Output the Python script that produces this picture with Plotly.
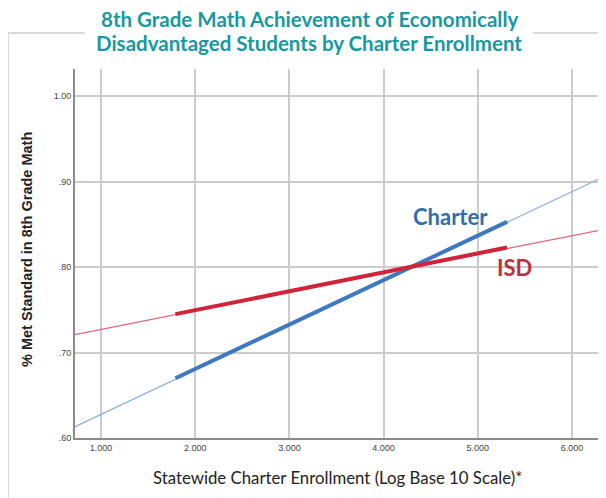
import plotly.graph_objects as go

# fitted lines (x in log10 enrollment)
x_full = [0.72, 6.28]
charter_full = [0.613, 0.903]
isd_full = [0.721, 0.843]

x_obs = [1.79, 5.31]
charter_obs = [0.670, 0.853]
isd_obs = [0.745, 0.823]

x_ticks = [1, 2, 3, 4, 5, 6]
x_ticktext = ["1.000", "2.000", "3.000", "4.000", "5.000", "6.000"]
y_ticks = [0.6, 0.7, 0.8, 0.9, 1.0]
y_ticktext = [".60", ".70", ".80", ".90", "1.00"]

title_lines = ["8th Grade Math Achievement of Economically",
               "Disadvantaged Students by Charter Enrollment"]

blue = "#3e78c0"
red = "#d1233a"

fig = go.Figure()
fig.add_trace(go.Scatter(x=x_full, y=charter_full, mode="lines",
                         line=dict(color="#8aaede", width=1.2), hoverinfo="skip"))
fig.add_trace(go.Scatter(x=x_full, y=isd_full, mode="lines",
                         line=dict(color="#e0647a", width=1.2), hoverinfo="skip"))
fig.add_trace(go.Scatter(x=x_obs, y=charter_obs, mode="lines",
                         line=dict(color=blue, width=4), hoverinfo="skip"))
fig.add_trace(go.Scatter(x=x_obs, y=isd_obs, mode="lines",
                         line=dict(color=red, width=4), hoverinfo="skip"))

# line labels
fig.add_annotation(x=4.71, y=0.859, text="<b>Charter</b>", showarrow=False,
                   font=dict(family="Lato", size=22, color="#2f6fae"))
fig.add_annotation(x=5.39, y=0.80, text="<b>ISD</b>", showarrow=False,
                   font=dict(family="Lato", size=22, color="#b8333e"))


# helpers: window pixel -> paper coords (plot area spans 75..598 x 69..438 in the window)
def px(x):
    return (x - 75) / 523


def py(y):
    return (438 - y) / 369


# title lines and axis titles
for line, yy in zip(title_lines, [19, 43]):
    fig.add_annotation(xref="paper", yref="paper", x=px(309), y=py(yy),
                       xanchor="center", yanchor="middle", borderpad=0,
                       text="<b>" + line + "</b>", showarrow=False,
                       font=dict(family="Lato", size=20.5, color="#16999f"))
fig.add_annotation(xref="paper", yref="paper", x=px(27), y=py(250),
                   xanchor="center", yanchor="middle",
                   text="<b>% Met Standard in 8th Grade Math</b>", textangle=-90,
                   showarrow=False,
                   font=dict(family="Liberation Sans", size=14.5, color="#222222"))
fig.add_annotation(xref="paper", yref="paper", x=px(337), y=py(477),
                   xanchor="center", yanchor="middle",
                   text="Statewide Charter Enrollment (Log Base 10 Scale)*",
                   showarrow=False,
                   font=dict(family="Lato", size=16.8, color="#222222"))

# outer frame with a gap behind the title
frame = dict(type="line", xref="paper", yref="paper",
             line=dict(color="#dadada", width=2))
fig.add_shape(**frame, x0=px(8), x1=px(8), y0=py(33), y1=py(510))
fig.add_shape(**frame, x0=px(8), x1=px(85), y0=py(33), y1=py(33))
fig.add_shape(**frame, x0=px(533), x1=px(620), y0=py(33), y1=py(33))

fig.update_xaxes(range=[0.724, 6.276], tickvals=x_ticks, ticktext=x_ticktext,
                 showgrid=True, gridcolor="#cccccc", gridwidth=1.5,
                 showline=True, linecolor="#8a8a8a", linewidth=2,
                 zeroline=False, ticks="",
                 tickfont=dict(family="Liberation Sans", size=9, color="#444444"))
fig.update_yaxes(range=[0.6, 1.032], tickvals=y_ticks, ticktext=y_ticktext,
                 showgrid=True, gridcolor="#cccccc", gridwidth=1.5,
                 showline=True, linecolor="#8a8a8a", linewidth=2,
                 zeroline=False, ticks="",
                 tickfont=dict(family="Liberation Sans", size=9, color="#444444"))

# the page body adds an 8px offset, so the margins are shifted by 8
fig.update_layout(width=606, height=498, showlegend=False,
                  margin=dict(l=67, r=16, t=61, b=68, autoexpand=False),
                  plot_bgcolor="white", paper_bgcolor="white")

fig.write_html("out.html")
